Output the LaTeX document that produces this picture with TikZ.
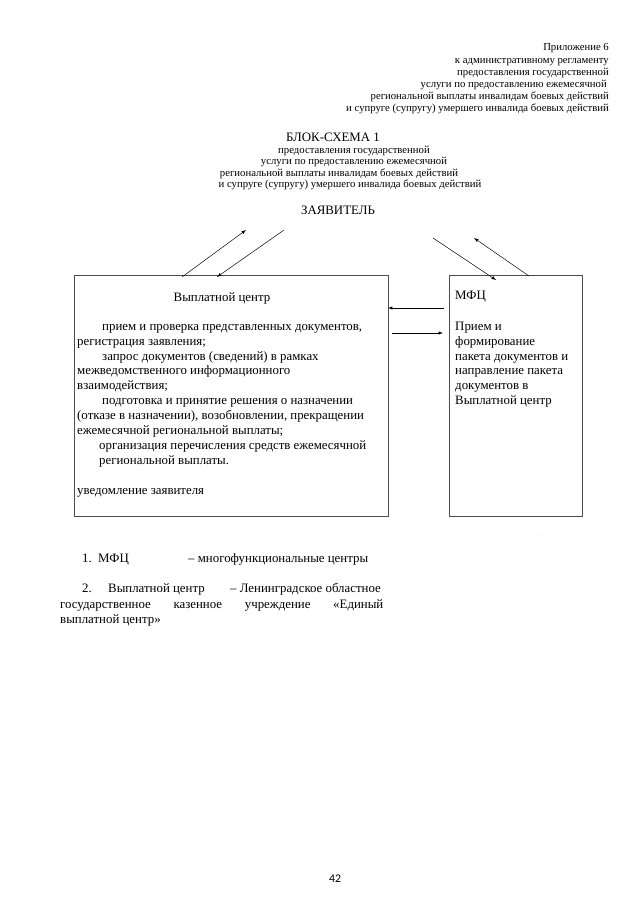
\documentclass[tikz,border=0pt]{standalone}
\usepackage{fontspec}
\setmainfont{Liberation Serif}
\newfontfamily\pagefont{Carlito}
\usepackage{tikz}
\usetikzlibrary{positioning}
\usetikzlibrary{calc}

\begin{document}
\begin{tikzpicture}[x=0.0328125cm, y=-0.0328125cm, >=latex,
	hdr/.style={inner sep=0pt, anchor=mid east, font=\fontsize{10}{11.5}\selectfont},
	sub/.style={inner sep=0pt, anchor=mid, font=\fontsize{10}{11.5}\selectfont},
	txt/.style={inner sep=0pt, font=\fontsize{12}{13.9}\selectfont},
	blk/.style={txt, anchor=north west, align=left},
	box/.style={draw=black!70, line width=0.6pt, inner sep=0pt, anchor=north west},
	arr/.style={->, line width=0.45pt}]

	\useasboundingbox (0,0) rectangle (640,905);

	% header
	\node[hdr] (h1) at (609,48.5) {Приложение 6};
	\node[hdr] (h2) at (609,60.7) {к административному регламенту};
	\node[hdr] (h3) at (609,72.9) {предоставления государственной};
	\node[hdr] (h4) at (607,85.1) {услуги по предоставлению ежемесячной};
	\node[hdr] (h5) at (609,97.3) {региональной выплаты инвалидам боевых действий};
	\node[hdr] (h6) at (609,109.5) {и супруге (супругу) умершего инвалида боевых действий};

	% title
	\node[txt, anchor=mid] (title) at (333,139) {БЛОК-СХЕМА 1};
	\node[sub] (s1) at (354,151) {предоставления государственной};
	\node[sub] (s2) at (354,162.5) {услуги по предоставлению ежемесячной};
	\node[sub] (s3) at (339,174) {региональной выплаты инвалидам боевых действий};
	\node[sub] (s4) at (350,185.5) {и супруге (супругу) умершего инвалида боевых действий};
	\node[txt, anchor=mid] (appl) at (338,212) {ЗАЯВИТЕЛЬ};

	% boxes
	\node[box, minimum width=10.303cm, minimum height=7.908cm] (vc) at (74,275) {};
	\node[box, minimum width=4.364cm, minimum height=7.908cm] (mfc) at (449,275) {};

	\node[txt, anchor=mid] (vct) at (222,299) {Выплатной центр};
	\node[blk] (vcb) at (77,319.3) {\rule{0pt}{10pt}\hspace*{0.82cm}прием и проверка представленных документов,\\
		регистрация заявления;\\
		\hspace*{0.82cm}запрос документов (сведений) в рамках\\
		межведомственного информационного\\
		взаимодействия;\\
		\hspace*{0.82cm}подготовка и принятие решения о назначении\\
		(отказе в назначении), возобновлении, прекращении\\
		ежемесячной региональной выплаты;\\
		\hspace*{0.72cm}организация перечисления средств ежемесячной\\
		\hspace*{0.72cm}региональной выплаты.\\[13.9pt]
		уведомление заявителя};

	\node[txt, anchor=mid west] (mfct) at (455,297) {МФЦ};
	\node[blk] (mfcb) at (455,319.3) {\rule{0pt}{10pt}Прием и\\
		формирование\\
		пакета документов и\\
		направление пакета\\
		документов в\\
		Выплатной центр};

	% arrows
	\coordinate (a1) at (182,277);
	\coordinate (b1) at (246,230);
	\coordinate (a2) at (284,230);
	\coordinate (b2) at (217,277);
	\coordinate (a3) at (433,238);
	\coordinate (b3) at (496,280);
	\coordinate (a4) at (529,276);
	\coordinate (b4) at (474,238);
	\coordinate (a5) at (444,308);
	\coordinate (b5) at (388,308);
	\coordinate (a6) at (392,333);
	\coordinate (b6) at (443,333);

	\path[arr] (a1) edge (b1);
	\path[arr] (a2) edge (b2);
	\path[arr] (a3) edge (b3);
	\path[arr] (a4) edge (b4);
	\path[arr] (a5) edge (b5);
	\path[arr] (a6) edge (b6);

	\node[inner sep=0pt, font=\tiny, text=black!50] (dot) at (539,535) {.};

	% legend
	\node[txt, anchor=mid west] (n1) at (82,560) {1.};
	\node[txt, anchor=mid west] (m1) at (98,560) {МФЦ};
	\node[txt, anchor=mid west] (d1) at (188,560) {– многофункциональные центры};
	\node[txt, anchor=mid west] (n2) at (82,590) {2.};
	\node[txt, anchor=mid west] (m2) at (108,590) {Выплатной центр};
	\node[txt, anchor=mid west] (d2) at (230,590) {– Ленинградское областное};
	\node[txt, anchor=mid west] (l3) at (60,606) {\makebox[10.6cm][s]{государственное казенное учреждение «Единый}};
	\node[txt, anchor=mid west] (l4) at (60,621) {выплатной центр»};

	\node[inner sep=0pt, anchor=mid, font=\pagefont\fontsize{11}{13}\selectfont] (pg) at (335,880) {42};
\end{tikzpicture}
\end{document}
